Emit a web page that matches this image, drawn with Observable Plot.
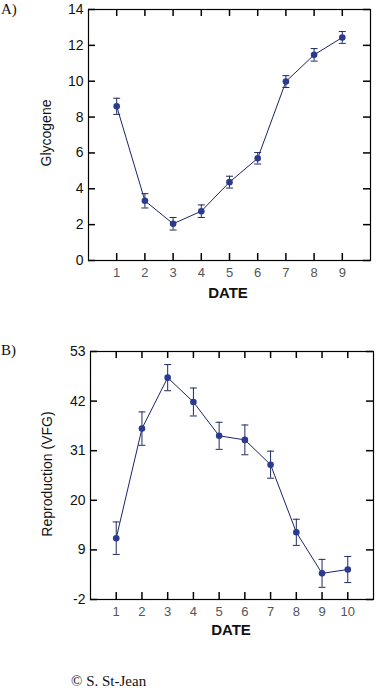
<!DOCTYPE html>
<html><head><meta charset="utf-8">
<script src="https://cdn.jsdelivr.net/npm/d3@7"></script>
<script src="https://cdn.jsdelivr.net/npm/@observablehq/plot@0.6"></script>
<style>
body{margin:0;background:#fff;}
#wrap{position:relative;width:377px;height:691px;overflow:hidden;background:#fff}
.lab{position:absolute;font-family:"Liberation Serif","Times New Roman",serif;font-size:15px;color:#111;line-height:1;white-space:nowrap}
.ax{position:absolute;font-family:"Liberation Sans",Arial,sans-serif;color:#111;line-height:1;white-space:nowrap}
.rot{transform:translate(-50%,-50%) rotate(-90deg);}
.ctr{transform:translate(-50%,-50%);}
#pa{position:absolute;left:0;top:0}
#pb{position:absolute;left:0;top:310px}
</style></head><body>
<div id="wrap">
<div id="pa"></div><div id="pb"></div>
<div class="lab" style="left:1px;top:2px">A)</div>
<div class="lab" style="left:1px;top:343px">B)</div>
<div class="lab" style="left:71px;top:674px">© S. St-Jean</div>
<div class="ax rot" style="left:46px;top:133px;font-size:14px">Glycogene</div>
<div class="ax rot" style="left:47px;top:474px;font-size:14px">Reproduction (VFG)</div>
<div class="ax ctr" style="left:228px;top:292px;font-size:15px;font-weight:bold">DATE</div>
<div class="ax ctr" style="left:231px;top:629px;font-size:15px;font-weight:bold">DATE</div>
</div>
<script>
// Panel A data
const datesA = [1, 2, 3, 4, 5, 6, 7, 8, 9];
const glycogene = [8.6, 3.33, 2.05, 2.75, 4.37, 5.7, 9.98, 11.47, 12.44];
const glycogeneErr = [0.45, 0.4, 0.35, 0.35, 0.33, 0.32, 0.33, 0.35, 0.33];
const yTicksA = [0, 2, 4, 6, 8, 10, 12, 14];

// Panel B data
const datesB = [1, 2, 3, 4, 5, 6, 7, 8, 9, 10];
const reproduction = [11.6, 35.9, 47.2, 41.8, 34.3, 33.4, 27.9, 12.9, 3.8, 4.65];
const reproductionErr = [3.6, 3.7, 2.9, 3.1, 3.0, 3.3, 3.0, 2.9, 3.1, 2.9];
const yTicksB = [-2, 9, 20, 31, 42, 53];

const cap = {draw(context, size) { const w = Math.sqrt(size / Math.PI); context.moveTo(-w, 0); context.lineTo(w, 0); }};
const TICK = 7;

function panel({dates, values, errs, xDomain, yDomain, yTicks, height, mt, mb, ml, mr}) {
  const data = dates.map((d, i) => ({date: d, v: values[i], lo: values[i] - errs[i], hi: values[i] + errs[i]}));
  const innerH = height - mt - mb;
  const innerW = 377 - ml - mr;
  const tickStyle = {stroke: "#000", strokeWidth: 1.5};
  return Plot.plot({
    width: 377, height, marginTop: mt, marginBottom: mb, marginLeft: ml, marginRight: mr,
    style: {fontFamily: '"Liberation Sans", Arial, sans-serif', fontSize: "13px", color: "#111", background: "transparent"},
    x: {domain: xDomain},
    y: {domain: yDomain},
    marks: [
      Plot.frame({stroke: "#000", strokeWidth: 1.2}),
      // tick labels
      Plot.axisX(dates, {anchor: "bottom", tickSize: 0, tickPadding: 7, fontSize: 13, fill: "#555", tickFormat: d => String(d), label: null}),
      Plot.axisY(yTicks, {anchor: "left", tickSize: 0, tickPadding: 5, fontSize: 14, fill: "#111", tickFormat: d => String(d), label: null}),
      // inward tick marks on all four sides
      Plot.ruleX(dates, {x: d => d, insetTop: innerH - TICK, ...tickStyle}),
      Plot.ruleX(dates, {x: d => d, insetBottom: innerH - TICK, ...tickStyle}),
      Plot.ruleY(yTicks, {y: d => d, insetLeft: innerW - TICK, ...tickStyle}),
      Plot.ruleY(yTicks, {y: d => d, insetRight: innerW - TICK, ...tickStyle}),
      // data
      Plot.line(data, {x: "date", y: "v", stroke: "#1b2566", strokeWidth: 1}),
      Plot.ruleX(data, {x: "date", y1: "lo", y2: "hi", stroke: "#1f2a5e", strokeWidth: 1}),
      Plot.dot(data, {x: "date", y: "hi", symbol: cap, r: 3.5, stroke: "#1f2a5e", strokeWidth: 1}),
      Plot.dot(data, {x: "date", y: "lo", symbol: cap, r: 3.5, stroke: "#1f2a5e", strokeWidth: 1}),
      Plot.dot(data, {x: "date", y: "v", r: 3.3, fill: "#2a3a8e", stroke: "none"})
    ]
  });
}

document.getElementById("pa").append(panel({
  dates: datesA, values: glycogene, errs: glycogeneErr, xDomain: [0, 10], yDomain: [0, 14], yTicks: yTicksA,
  height: 310, mt: 9, mb: 50, ml: 88, mr: 7
}));
document.getElementById("pb").append(panel({
  dates: datesB, values: reproduction, errs: reproductionErr, xDomain: [0, 11], yDomain: [-2, 53], yTicks: yTicksB,
  height: 340, mt: 41, mb: 51, ml: 90, mr: 4
}));
</script>
</body></html>
